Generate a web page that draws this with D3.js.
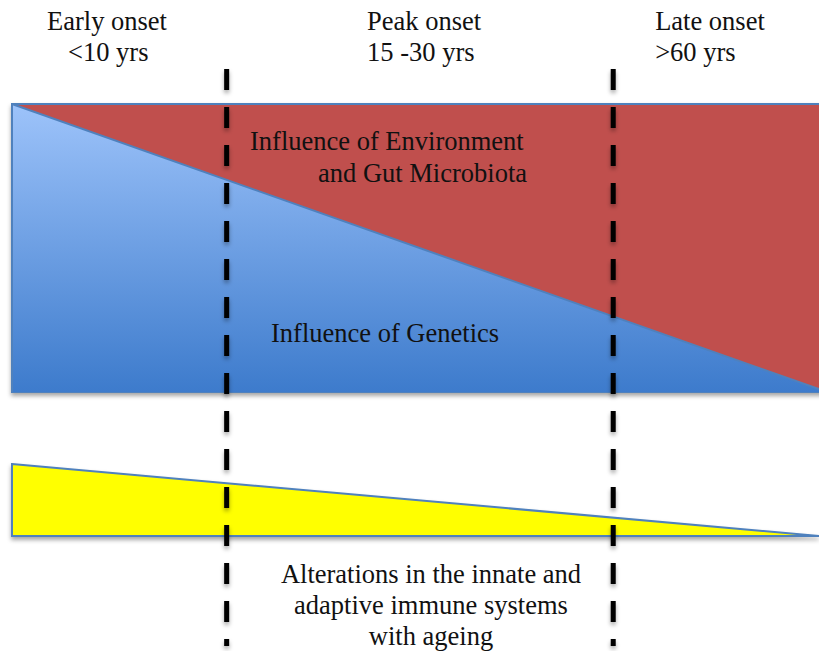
<!DOCTYPE html>
<html>
<head>
<meta charset="utf-8">
<script src="https://cdn.jsdelivr.net/npm/d3@7"></script>
<style>
  html, body { margin: 0; padding: 0; background: #fff; }
  svg { display: block; }
  text { font-family: "Liberation Serif", "Times New Roman", "DejaVu Serif", serif; font-size: 26.5px; fill: #111; }
</style>
</head>
<body>
<svg width="819" height="651"></svg>
<script>
// onset stages across the age axis (0 = youngest, 1 = oldest)
const stages = ["Early onset", "Peak onset", "Late onset"];
const ageLabels = ["<10 yrs", "15 -30 yrs", ">60 yrs"];
const stageX = [0.0434, 0.440, 0.797];   // where each heading starts
const ageX = [0.0694, 0.440, 0.797];
const dividers = [0.266, 0.745];

// share of genetic influence (rest = environment / microbiota)
const ageSteps = [0, 1];
const geneticShare = [1.0, 0.01];
// immune alteration band (thickness)
const immuneShare = [1.0, 0.0];

const svg = d3.select("svg");

const x = d3.scaleLinear().domain([0, 1]).range([12, 819]);
const yTop = d3.scaleLinear().domain([0, 1]).range([392, 104]);
const yImm = d3.scaleLinear().domain([0, 1]).range([536, 464]);

const defs = svg.append("defs");
const grad = defs.append("linearGradient")
    .attr("id", "blueGrad")
    .attr("x1", 0).attr("y1", 0).attr("x2", 0).attr("y2", 1);
grad.append("stop").attr("offset", "0%").attr("stop-color", "#9dc3fa");
grad.append("stop").attr("offset", "100%").attr("stop-color", "#3d7bcc");

const shadow = defs.append("filter").attr("id", "shadow")
    .attr("filterUnits", "userSpaceOnUse")
    .attr("x", 0).attr("y", 0).attr("width", 819).attr("height", 651);
shadow.append("feDropShadow")
    .attr("dx", 0).attr("dy", 3).attr("stdDeviation", 2)
    .attr("flood-color", "#000").attr("flood-opacity", 0.35);

const pts = ageSteps.map((a, i) => ({a, g: geneticShare[i], im: immuneShare[i]}));

// environment block (red rectangle behind)
svg.append("rect")
    .attr("x", x(0))
    .attr("y", yTop(1))
    .attr("width", x(1) - x(0) + 10)
    .attr("height", yTop(0) - yTop(1))
    .attr("fill", "#c0504d")
    .attr("stroke", "#4f81bd")
    .attr("stroke-width", 2)
    .attr("filter", "url(#shadow)");

// genetics area
const area = d3.area()
    .x(d => x(d.a))
    .y0(yTop(0))
    .y1(d => yTop(d.g));

svg.append("path")
    .datum(pts)
    .attr("d", area)
    .attr("fill", "url(#blueGrad)");

svg.append("path")
    .datum(pts)
    .attr("d", d3.line().x(d => x(d.a)).y(d => yTop(d.g)))
    .attr("fill", "none")
    .attr("stroke", "#4f81bd")
    .attr("stroke-width", 2);

svg.append("line")
    .attr("x1", x(0)).attr("x2", x(0))
    .attr("y1", yTop(1)).attr("y2", yTop(0))
    .attr("stroke", "#4f81bd").attr("stroke-width", 2);

// immune band
const immArea = d3.area()
    .x(d => x(d.a))
    .y0(yImm(0))
    .y1(d => yImm(d.im));

svg.append("path")
    .datum(pts)
    .attr("d", immArea)
    .attr("fill", "#ffff00")
    .attr("stroke", "#4f81bd")
    .attr("stroke-width", 2)
    .attr("filter", "url(#shadow)");

// dashed dividers
svg.selectAll("line.divider")
    .data(dividers)
    .join("line")
    .attr("class", "divider")
    .attr("x1", d => x(d)).attr("x2", d => x(d))
    .attr("y1", 69).attr("y2", 646)
    .attr("stroke", "#000")
    .attr("stroke-width", 5)
    .attr("stroke-dasharray", "21 17")
    .attr("filter", "url(#shadow)");

// headings
svg.selectAll("text.stage")
    .data(stages)
    .join("text")
    .attr("class", "stage")
    .attr("x", (d, i) => x(stageX[i]))
    .attr("y", 30)
    .text(d => d);

svg.selectAll("text.age")
    .data(ageLabels)
    .join("text")
    .attr("class", "age")
    .attr("x", (d, i) => x(ageX[i]))
    .attr("y", 61)
    .text(d => d);

// area labels
svg.append("text").attr("x", 250).attr("y", 150).text("Influence of Environment");
svg.append("text").attr("x", 318).attr("y", 182).text("and Gut Microbiota");
svg.append("text").attr("x", 271).attr("y", 342).text("Influence of Genetics");

const bottom = ["Alterations in the innate and", "adaptive immune systems", "with ageing"];
svg.selectAll("text.imm")
    .data(bottom)
    .join("text")
    .attr("class", "imm")
    .attr("x", 431)
    .attr("y", (d, i) => 583 + i * 31)
    .attr("text-anchor", "middle")
    .text(d => d);
</script>
</body>
</html>
